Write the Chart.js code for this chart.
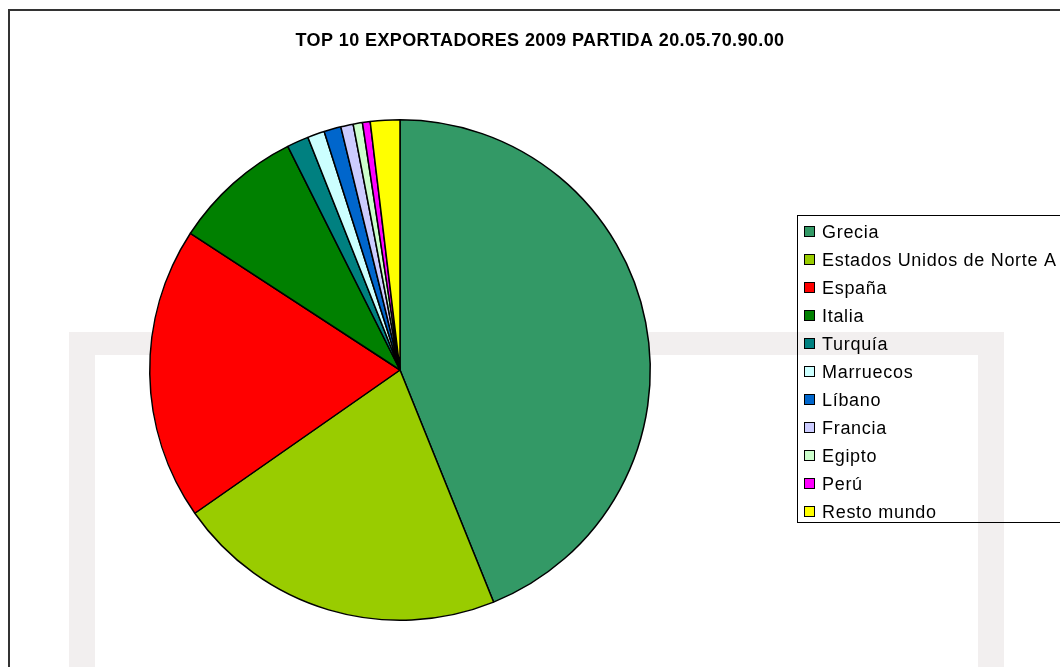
<!DOCTYPE html>
<html>
<head>
<meta charset="utf-8">
<script src="https://cdn.jsdelivr.net/npm/chart.js@4/dist/chart.umd.min.js"></script>
<style>
  body { margin: 0; background: #fff; }
  #wrap { width: 1060px; height: 667px; }
</style>
</head>
<body>
<div id="wrap"><canvas id="chart" width="1060" height="667"></canvas></div>
<script>
var title = 'TOP 10 EXPORTADORES 2009 PARTIDA 20.05.70.90.00';
var categories = ['Grecia', 'Estados Unidos de Norte A', 'España', 'Italia', 'Turquía',
  'Marruecos', 'Líbano', 'Francia', 'Egipto', 'Perú', 'Resto mundo'];
var values = [43.9, 21.4, 18.9, 8.4, 1.4, 1.1, 1.1, 0.8, 0.6, 0.5, 1.9];
var colors = ['#339966', '#99cc00', '#ff0000', '#008000', '#008080',
  '#ccffff', '#0066cc', '#ccccff', '#ccffcc', '#ff00ff', '#ffff00'];

// white page, light grey frame behind the pie and the outer border
var backdrop = {
  id: 'backdrop',
  beforeDraw: function(chart) {
    var ctx = chart.ctx;
    ctx.save();
    ctx.fillStyle = '#fff';
    ctx.fillRect(0, 0, chart.width, chart.height);
    ctx.fillStyle = '#f2efef';
    ctx.fillRect(69, 332, 935, 23);
    ctx.fillRect(69, 332, 26, 340);
    ctx.fillRect(978, 332, 26, 340);
    ctx.strokeStyle = '#333';
    ctx.lineWidth = 2;
    ctx.strokeRect(9, 10, 1200, 800);
    ctx.fillStyle = '#000';
    ctx.font = 'bold 18px "Liberation Sans", Arial, sans-serif';
    ctx.letterSpacing = '0.4px';
    ctx.textAlign = 'center';
    ctx.textBaseline = 'alphabetic';
    ctx.fillText(title, 540, 46);
    ctx.restore();
  }
};

// legend box on the right, cut by the page edge like the original
var sideLegend = {
  id: 'sideLegend',
  afterDraw: function(chart) {
    var ctx = chart.ctx;
    var labels = chart.data.labels;
    var bg = chart.data.datasets[0].backgroundColor;
    ctx.save();
    ctx.strokeStyle = '#000';
    ctx.lineWidth = 1;
    ctx.strokeRect(797.5, 215.5, 400, 307);
    ctx.font = '18px "Liberation Sans", Arial, sans-serif';
    ctx.letterSpacing = '0.7px';
    ctx.textBaseline = 'alphabetic';
    ctx.textAlign = 'left';
    labels.forEach(function(name, i) {
      var y = 232 + 28 * i;
      ctx.fillStyle = bg[i];
      ctx.fillRect(804.5, y - 5.5, 10, 10);
      ctx.strokeRect(804.5, y - 5.5, 10, 10);
      ctx.fillStyle = '#000';
      ctx.fillText(name, 822, y + 5.5);
    });
    ctx.restore();
  }
};

new Chart(document.getElementById('chart'), {
  type: 'pie',
  data: {
    labels: categories,
    datasets: [{
      data: values,
      backgroundColor: colors,
      borderColor: '#000',
      borderWidth: 1.5
    }]
  },
  options: {
    responsive: false,
    animation: false,
    layout: { padding: { left: 149, right: 409, top: 119, bottom: 46 } },
    plugins: {
      legend: { display: false },
      tooltip: { enabled: false }
    }
  },
  plugins: [backdrop, sideLegend]
});
</script>
</body>
</html>
